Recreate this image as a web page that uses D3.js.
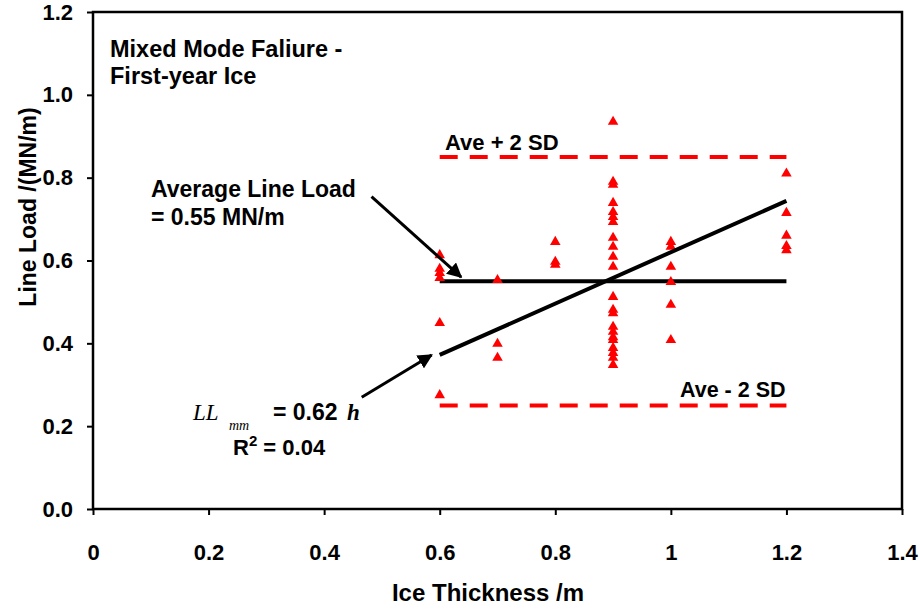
<!DOCTYPE html>
<html>
<head>
<meta charset="utf-8">
<script src="https://cdn.jsdelivr.net/npm/d3@7"></script>
<style>
  body { margin: 0; background: #fff; }
  text { font-family: "Liberation Sans", Arial, sans-serif; font-weight: bold; }
</style>
</head>
<body>
<div id="chart"></div>
<script>
// measured loads, grouped by ice thickness
const thickness = [0.6, 0.7, 0.8, 0.9, 1.0, 1.2];
const loads = [
  [0.613, 0.58, 0.57, 0.558, 0.449, 0.275],
  [0.553, 0.399, 0.365],
  [0.645, 0.597, 0.59],
  [0.935, 0.79, 0.783, 0.739, 0.717, 0.705, 0.693, 0.655, 0.633, 0.609, 0.585,
   0.512, 0.481, 0.473, 0.44, 0.428, 0.415, 0.408, 0.389, 0.377, 0.365, 0.348],
  [0.645, 0.633, 0.585, 0.548, 0.493, 0.408],
  [0.81, 0.715, 0.66, 0.635, 0.625]
];
const xTicks = [0, 0.2, 0.4, 0.6, 0.8, 1, 1.2, 1.4];
const yTicks = [0, 0.2, 0.4, 0.6, 0.8, 1.0, 1.2];
const aveLoad = 0.55;
const plus2SD = 0.85;
const minus2SD = 0.25;
const slope = 0.62;
const lineRange = [0.6, 1.2];

const width = 920, height = 610;
const margin = {top: 12, right: 18, bottom: 101, left: 93};

const svg = d3.select('#chart').append('svg')
    .attr('width', width)
    .attr('height', height);

const x = d3.scaleLinear().domain([0, 1.4]).range([margin.left, width - margin.right]);
const y = d3.scaleLinear().domain([0, 1.2]).range([height - margin.bottom, margin.top]);

const points = [];
thickness.forEach((t, i) => loads[i].forEach(v => points.push({t: t, v: v})));

// frame
svg.append('rect')
    .attr('x', x(0)).attr('y', y(1.2))
    .attr('width', x(1.4) - x(0)).attr('height', y(0) - y(1.2))
    .attr('fill', 'none').attr('stroke', '#000').attr('stroke-width', 2.5);

// axes
const xAxis = svg.append('g')
    .attr('transform', `translate(0,${y(0)})`)
    .call(d3.axisBottom(x).tickValues(xTicks).tickFormat(d => d === 0 ? '0' : d3.format('~g')(d)).tickSize(6).tickPadding(29));
const yAxis = svg.append('g')
    .attr('transform', `translate(${x(0)},0)`)
    .call(d3.axisLeft(y).tickValues(yTicks).tickFormat(d3.format('.1f')).tickSize(6).tickPadding(14));
[xAxis, yAxis].forEach(a => {
  a.select('.domain').remove();
  a.selectAll('line').attr('stroke', '#000').attr('stroke-width', 2);
  a.selectAll('text').attr('fill', '#000').style('font-size', '22px')
      .style('font-family', '"Liberation Sans", Arial, sans-serif').style('font-weight', 'bold');
});

// SD lines
[plus2SD, minus2SD].forEach(v => {
  svg.append('line')
      .attr('x1', x(lineRange[0])).attr('x2', x(lineRange[1]))
      .attr('y1', y(v)).attr('y2', y(v))
      .attr('stroke', '#ff0000').attr('stroke-width', 4)
      .attr('stroke-dasharray', '18,12');
});

// average line
svg.append('line')
    .attr('x1', x(lineRange[0])).attr('x2', x(lineRange[1]))
    .attr('y1', y(aveLoad)).attr('y2', y(aveLoad))
    .attr('stroke', '#000').attr('stroke-width', 4);

// points
svg.selectAll('path.pt')
    .data(points)
    .enter()
    .append('path')
    .attr('class', 'pt')
    .attr('d', d3.symbol().type(d3.symbolTriangle).size(48))
    .attr('transform', d => `translate(${x(d.t)},${y(d.v)})`)
    .attr('fill', '#ff0000');

// regression line
svg.append('line')
    .attr('x1', x(lineRange[0])).attr('y1', y(slope * lineRange[0]))
    .attr('x2', x(lineRange[1])).attr('y2', y(slope * lineRange[1]))
    .attr('stroke', '#000').attr('stroke-width', 4);

// arrows
svg.append('defs').append('marker')
    .attr('id', 'arrow')
    .attr('viewBox', '0 0 10 10')
    .attr('refX', 9).attr('refY', 5)
    .attr('markerWidth', 5).attr('markerHeight', 5)
    .attr('orient', 'auto')
    .append('path').attr('d', 'M0,0 L10,5 L0,10 z').attr('fill', '#000');

const arrows = [
  {from: [0.482, 0.754], to: [0.637, 0.56]},
  {from: [0.465, 0.27], to: [0.586, 0.372]}
];
arrows.forEach(a => {
  svg.append('line')
      .attr('x1', x(a.from[0])).attr('y1', y(a.from[1]))
      .attr('x2', x(a.to[0])).attr('y2', y(a.to[1]))
      .attr('stroke', '#000').attr('stroke-width', 3)
      .attr('marker-end', 'url(#arrow)');
});

// annotations
const label = (tx, ty, str, size) => svg.append('text')
    .attr('x', tx).attr('y', ty).attr('font-size', size).text(str);

label(110, 57, 'Mixed Mode Faliure -', 23.5);
label(110, 84, 'First-year Ice', 23.5);
label(445, 150, 'Ave + 2 SD', 22);
label(680, 397, 'Ave - 2 SD', 21.5);
label(151, 197, 'Average Line Load', 23);
label(151, 225, '= 0.55 MN/m', 23);

svg.append('text').attr('x', 193).attr('y', 420)
    .style('font-family', '"Liberation Serif", "Times New Roman", serif')
    .style('font-style', 'italic').style('font-weight', 'normal')
    .attr('font-size', 23).text('LL');
svg.append('text').attr('x', 229).attr('y', 430)
    .style('font-family', '"Liberation Serif", "Times New Roman", serif')
    .style('font-style', 'italic').style('font-weight', 'normal')
    .attr('font-size', 14).text('mm');
label(273, 420, '= 0.62', 23);
svg.append('text').attr('x', 347).attr('y', 420)
    .style('font-family', '"Liberation Serif", "Times New Roman", serif')
    .style('font-style', 'italic')
    .attr('font-size', 23).text('h');
const r2 = label(233, 455, 'R', 22);
r2.append('tspan').attr('dy', -9).attr('font-size', 15).text('2');
r2.append('tspan').attr('dy', 9).attr('font-size', 22).text(' = 0.04');

// axis titles
svg.append('text')
    .attr('x', 488).attr('y', 601)
    .attr('text-anchor', 'middle').attr('font-size', 24)
    .text('Ice Thickness /m');
svg.append('text')
    .attr('transform', 'translate(36,207) rotate(-90)')
    .attr('text-anchor', 'middle').attr('font-size', 23)
    .text('Line Load /(MN/m)');
</script>
</body>
</html>
